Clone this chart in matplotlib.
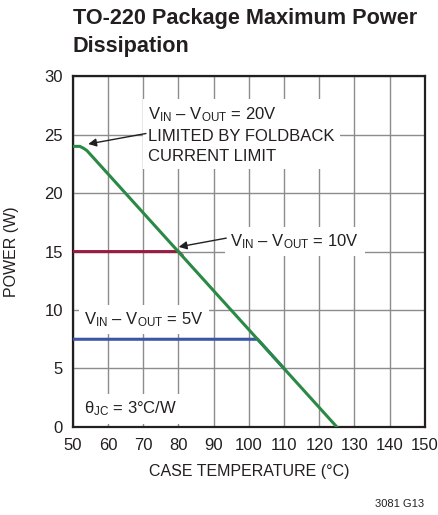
import matplotlib
matplotlib.use("Agg")
import matplotlib.pyplot as plt
from matplotlib import font_manager as fm

# pick a condensed face if we have one
names = {f.name for f in fm.fontManager.ttflist}
narrow = "Liberation Sans Narrow" if "Liberation Sans Narrow" in names else "Liberation Sans"

plt.rcParams['font.family'] = [narrow, 'DejaVu Sans']
plt.rcParams['mathtext.fontset'] = 'custom'
plt.rcParams['mathtext.rm'] = narrow
plt.rcParams['mathtext.it'] = narrow

# curves
temp_20v = [50, 52, 53, 54, 125]
power_20v = [24, 24, 23.85, 23.65, 0]
temp_10v = [50, 80, 81]
power_10v = [15, 15, 14.7]
temp_5v = [50, 102.5, 104, 110]
power_5v = [7.5, 7.5, 7.0, 5.0]

xticks = list(range(50, 151, 10))
yticks = list(range(0, 31, 5))

tc = '#231f20'

fig = plt.figure(figsize=(4.38, 5.15), dpi=100)
ax = fig.add_axes([0.166, 0.171, 0.804, 0.681])

ax.set_xlim(50, 150)
ax.set_ylim(0, 30)
ax.set_xticks(xticks)
ax.set_yticks(yticks)
ax.tick_params(length=0, labelsize=12, colors=tc)
ax.tick_params(axis='x', pad=8)
ax.tick_params(axis='y', pad=7)
ax.grid(True, color='#8c8c8c', linewidth=1.0)
ax.set_axisbelow(True)
for s in ax.spines.values():
    s.set_linewidth(1.6)
    s.set_color(tc)

ax.plot(temp_5v, power_5v, color='#3b56a6', linewidth=2.2, zorder=3)
ax.plot(temp_10v, power_10v, color='#9b1b3f', linewidth=2.2, zorder=3)
ax.plot(temp_20v, power_20v, color='#2a8a45', linewidth=2.2, zorder=4)

box = dict(facecolor='white', edgecolor='none', pad=4)
ax.text(71.5, 25.0, r"V$_{\mathrm{IN}}$ – V$_{\mathrm{OUT}}$ = 20V" + "\nLIMITED BY FOLDBACK\nCURRENT LIMIT",
        fontsize=12, va='center', ha='left', color=tc, linespacing=1.38, bbox=box, zorder=2)
ax.text(94.8, 15.85, r"V$_{\mathrm{IN}}$ – V$_{\mathrm{OUT}}$ = 10V",
        fontsize=12, va='center', ha='left', color=tc, bbox=box, zorder=2)
ax.text(53.3, 9.2, r"V$_{\mathrm{IN}}$ – V$_{\mathrm{OUT}}$ = 5V",
        fontsize=12, va='center', ha='left', color=tc, bbox=box, zorder=2)
ax.text(53.3, 1.55, r"θ$_{\mathrm{JC}}$ = 3°C/W",
        fontsize=12, va='center', ha='left', color=tc, bbox=box, zorder=2)

arrow = dict(arrowstyle='-|>', color=tc, lw=1.0, mutation_scale=12, shrinkA=0, shrinkB=0)
ax.annotate('', xy=(54.4, 24.2), xytext=(70.8, 25.1), arrowprops=arrow, zorder=5)
ax.annotate('', xy=(80.1, 15.4), xytext=(93.6, 16.15), arrowprops=arrow, zorder=5)

ax.set_xlabel('CASE TEMPERATURE (°C)', fontsize=11.5, color=tc, labelpad=8)
ax.set_ylabel('POWER (W)', fontsize=11.5, color=tc)
ax.yaxis.set_label_coords(-0.152, 0.5)

fig.text(0.166, 0.984, 'TO-220 Package Maximum Power\nDissipation', fontsize=15.6,
         fontweight='bold', va='top', ha='left', color=tc, linespacing=1.42)
fig.text(0.968, 0.012, '3081 G13', fontsize=8, ha='right', va='bottom', color=tc)

fig.savefig('out.png', dpi=100)
